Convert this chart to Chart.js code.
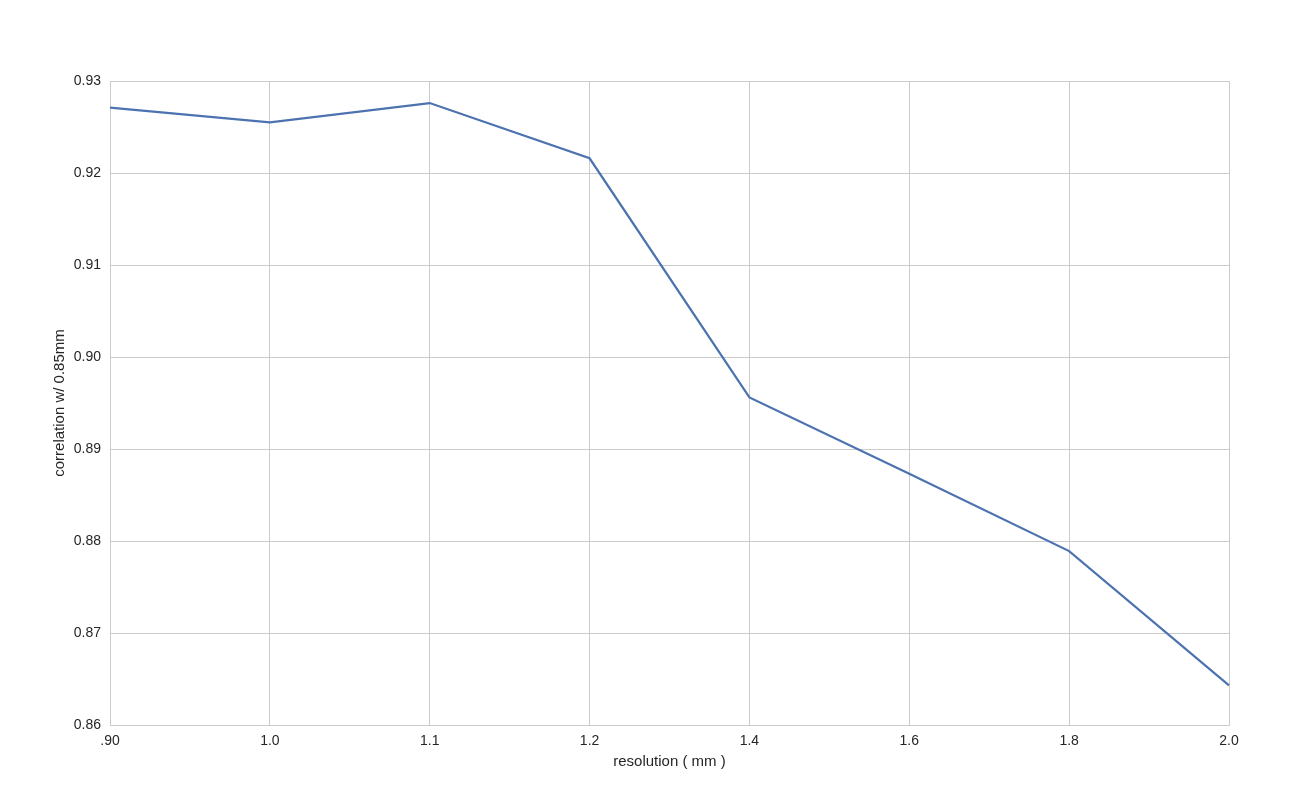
<!DOCTYPE html>
<html>
<head>
<meta charset="utf-8">
<script src="https://cdn.jsdelivr.net/npm/chart.js@4"></script>
<style>
  html, body { margin: 0; padding: 0; background: #fff; }
  #wrap { width: 1295px; height: 805px; }
</style>
</head>
<body>
<div id="wrap"><canvas id="corrChart" width="1295" height="805"></canvas></div>
<script>
// resolution (mm) on x, correlation with the 0.85mm run on y
const resolutions = ['.90', '1.0', '1.1', '1.2', '1.4', '1.6', '1.8', '2.0'];
const correlation = [0.9271, 0.9255, 0.9276, 0.9216, 0.8956, 0.8873, 0.8789, 0.8643];
const yMin = 0.86;
const yMax = 0.93;
const yStep = 0.01;

const gridColor = '#cbcbcb';
const textColor = '#262626';
Chart.defaults.font.family = "'Liberation Sans', Arial, sans-serif";
Chart.defaults.font.size = 14;
Chart.defaults.color = textColor;

const ctx = document.getElementById('corrChart').getContext('2d');
new Chart(ctx, {
    type: 'line',
    data: {
        labels: resolutions,
        datasets: [{
            data: correlation,
            borderColor: '#4c72b0',
            borderWidth: 2.2,
            pointRadius: 0,
            tension: 0,
            fill: false
        }]
    },
    options: {
        responsive: false,
        animation: false,
        layout: { padding: { left: 47, top: 81, right: 66, bottom: 30 } },
        plugins: {
            legend: { display: false },
            tooltip: { enabled: false }
        },
        scales: {
            x: {
                type: 'category',
                offset: false,
                grid: { color: gridColor, drawTicks: false },
                border: { color: gridColor },
                ticks: { padding: 8, maxRotation: 0 },
                title: { display: true, text: 'resolution ( mm )', font: { size: 15 }, padding: { top: 4, bottom: 4 } },
                afterFit: (axis) => { axis.height = 50; }
            },
            y: {
                min: yMin,
                max: yMax,
                grid: { color: gridColor, drawTicks: false },
                border: { color: gridColor },
                ticks: {
                    stepSize: yStep,
                    padding: 9,
                    callback: (v) => v.toFixed(2)
                },
                title: { display: true, text: 'correlation w/ 0.85mm', font: { size: 15 }, padding: { top: 4, bottom: 4 } },
                afterFit: (axis) => { axis.width = 63; }
            }
        }
    }
});
</script>
</body>
</html>
